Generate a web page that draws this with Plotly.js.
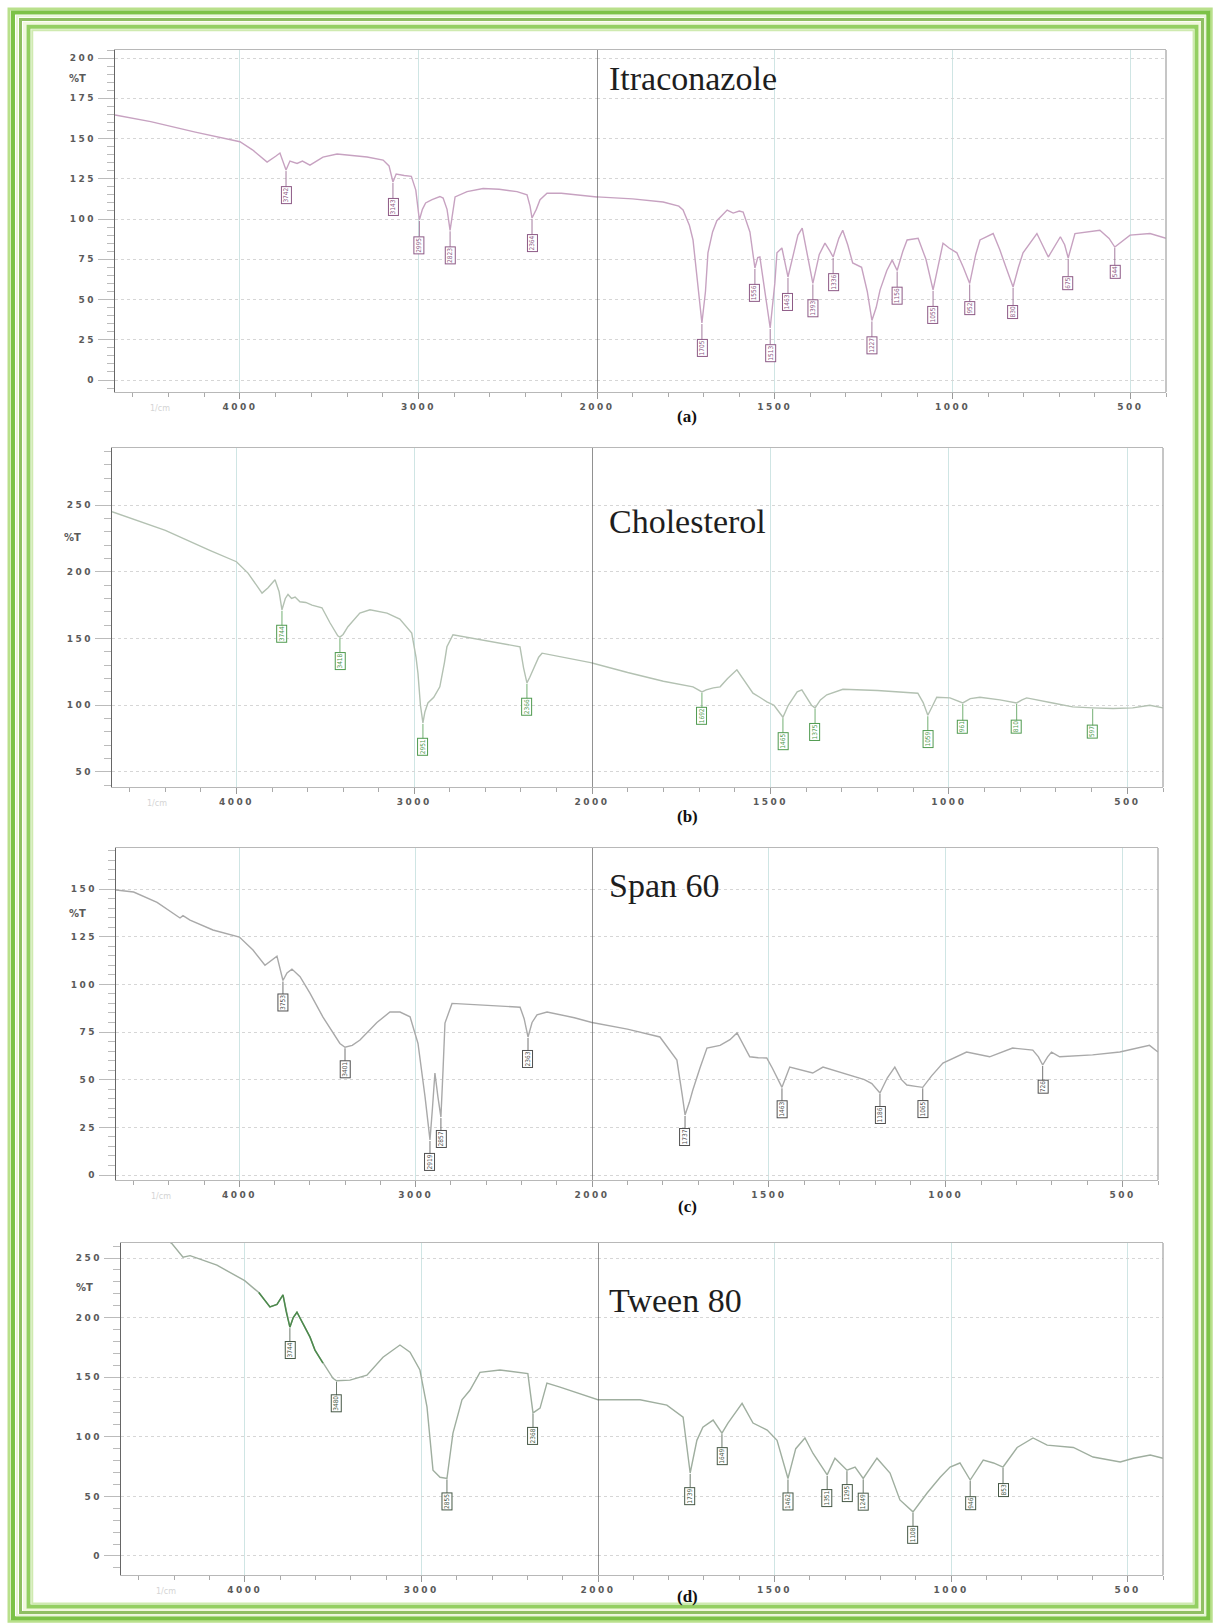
<!DOCTYPE html>
<html><head><meta charset="utf-8">
<script src="https://cdn.plot.ly/plotly-3.0.1.min.js"></script>
<style>
html,body{margin:0;padding:0;background:#fff;}
#chart{width:1213px;height:1624px;}
g[class$="tick"] > text{letter-spacing:2.5px;}
</style></head><body><div id="chart"></div>
<script>
// ---------- DATA (wavenumber cm-1, %T) ----------
const xTicksHigh = [4000, 3000];
const xTicksLow = [2000, 1500, 1000, 500];

// (a) Itraconazole
const wnA = [4700,4500,4250,4000,3930,3848,3800,3776,3742,3720,3680,3650,3608,3570,3535,3456,3370,3288,3198,3165,3143,3125,3080,3040,3015,2995,2978,2960,2924,2880,2862,2840,2823,2808,2795,2728,2638,2548,2448,2392,2375,2364,2340,2319,2280,2200,2100,2000,1900,1814,1770,1758,1740,1730,1715,1705,1695,1688,1675,1663,1634,1617,1600,1589,1570,1561,1556,1548,1542,1528,1513,1500,1494,1480,1470,1463,1450,1435,1423,1410,1393,1375,1359,1345,1336,1320,1309,1295,1281,1256,1240,1227,1215,1204,1185,1170,1156,1140,1128,1097,1075,1055,1040,1027,1010,988,970,952,935,923,886,867,850,830,815,802,763,731,697,685,675,665,656,586,560,544,525,501,445,400];
const tA = [164.6,160.5,154,148,143,135.4,139,141,130.4,136,134.5,136,133.5,136,138.5,140.4,139.5,138.5,136.6,133,123,128,127,126.5,118,99.4,106,110,112,114,113,106,93,105,113.7,117,119,118.5,117,115,108,100.6,106,112,116,116,115,113.7,112.5,110.6,108,105.6,96,87,55,35.4,55,79,92,99,105.6,103.7,105,104.3,92,76.4,69.6,76,76.4,55,32.3,60,79,82,72,64,76,90,94.4,80,60,78,85,80,76.4,88,93,84,72.7,70,55,37,45,56,68,74.5,68,80,87,88,75,56,72,85,82,79,70,60,78,87,91,80.7,70,57.8,70,79,91,76.4,89,84,75.8,84,91,93,88,82.6,86,90,91,88];
const pkWnA = [3742,3143,2995,2823,2364,1705,1556,1513,1463,1393,1336,1227,1156,1055,952,830,675,544];
const pkTA = [130.4,123,99.4,93,100.6,35.4,69.6,32.3,64,60,76.4,37,68,56,60,57.8,75.8,82.6];
const yTicksA = [0,25,50,75,100,125,150,175,200];

// (b) Cholesterol
const wnB = [4700,4400,4150,4000,3935,3856,3822,3783,3760,3744,3725,3710,3690,3670,3643,3610,3575,3545,3519,3474,3430,3418,3400,3373,3306,3249,3200,3153,3081,3014,2990,2979,2965,2951,2940,2923,2890,2856,2830,2816,2782,2600,2405,2385,2366,2350,2332,2300,2281,2200,2100,2000,1900,1800,1717,1700,1692,1680,1660,1641,1620,1594,1575,1549,1530,1510,1490,1478,1465,1450,1425,1412,1400,1385,1375,1360,1342,1297,1200,1137,1087,1072,1059,1045,1034,997,975,961,940,913,857,830,810,795,782,709,653,597,540,485,437,400];
const tB = [245,231,216,207.5,199,184,188,194,185,171.5,180,183,180,181,177.5,177,175,174,173,161.8,152,151,153,158.8,169,171.5,170.5,169,164.5,154,136,124,100,86.8,95,101.7,106,113.8,132,143.8,152.8,148.5,143.8,128,116.8,121,126.5,136,139,136.8,134.3,131.7,124.5,118,113.8,111,110,111.5,113,113.8,120,126.5,119,109,106,102.5,100,96,91,100,110,111.5,106,100,98,104,107.8,112,111,110,109,102,92.5,100,106,105.5,103,101.7,105,106,104,102.5,101.7,104,105.5,101.7,98.8,98,97.5,98,100,98];
const pkWnB = [3744,3418,2951,2366,1692,1465,1375,1059,961,810,597];
const pkTB = [171.5,151,86.8,116.8,110,91,98,92.5,101.7,101.7,98];
const yTicksB = [50,100,150,200,250];

// (c) Span 60
const wnC = [4700,4600,4467,4360,4337,4320,4280,4150,4000,3923,3855,3787,3770,3753,3730,3702,3656,3600,3526,3469,3430,3401,3360,3316,3220,3146,3089,3032,2987,2947,2930,2919,2905,2891,2874,2857,2845,2834,2794,2700,2618,2408,2385,2363,2340,2312,2255,2100,2000,1900,1808,1760,1745,1737,1725,1715,1695,1675,1638,1610,1590,1570,1554,1530,1506,1490,1463,1441,1410,1376,1347,1300,1271,1230,1209,1186,1165,1144,1125,1110,1085,1065,1040,1008,941,876,811,754,738,726,712,701,678,585,508,424,400];
const tC = [149.5,148.4,143,136,134.8,136,133.7,128.5,124.8,118,110,114.8,108,102,106,108,104,95.4,82.8,74.5,69,67,68,70.8,80,85.5,85.5,83,69,41,25,18.4,35,53.5,41,30.4,55,79.7,90,89.5,89,88,82,72.4,80,84,85.5,82.5,80,76.5,72.4,60.3,42,31.5,38,44.6,56,66.6,68,71,74.5,68,62,61.5,61.4,56,46,56.6,55,53.5,56.6,54,52.4,50,48,43,51,56.6,50,47.2,46.5,46,52,58.7,64.5,62,66.6,65.5,62,57.7,62,64.5,62,63,64.5,68,64.5];
const pkWnC = [3753,3401,2919,2857,2363,1737,1463,1186,1065,726];
const pkTC = [102,67,18.4,30.4,72.4,31.5,46,43,46,57.7];
const yTicksC = [0,25,50,75,100,125,150];

// (d) Tween 80
const wnD = [4700,4550,4411,4349,4309,4157,4000,3920,3857,3817,3783,3765,3744,3725,3704,3670,3630,3602,3557,3500,3480,3404,3308,3217,3121,3064,3008,2968,2934,2894,2855,2821,2770,2725,2668,2555,2397,2368,2328,2289,2215,2100,2000,1881,1805,1759,1739,1720,1703,1674,1649,1632,1592,1561,1521,1493,1462,1440,1414,1391,1351,1329,1295,1272,1249,1210,1173,1145,1108,1068,1031,1003,975,946,909,880,853,813,768,728,654,598,521,484,436,400];
const tD = [290,276,262,250.6,252,244,231,221,209,211,219,205,192,200,204.5,195,183.6,172.7,161.8,149,147,147.5,151.7,166.8,177,171,156,125,72,66,65,103,131,139,154,156,153,120,124,145,141.7,136,131,131,126.6,116.5,69.6,97,108,114,103,111.5,128,111.5,105.6,97,65,90,99,86,68,82,72,74.6,65,82,69.6,47,37,52.8,66,74.6,78,63.7,80.5,78,74.6,91,99,93,91,83,78.8,82,84.7,82];
const pkWnD = [3744,3480,2855,2368,1739,1649,1462,1351,1295,1249,1108,946,853];
const pkTD = [192,147,65,120,69.6,103,65,68,72,65,37,63.7,74.6];
const yTicksD = [0,50,100,150,200,250];

const titles = ['Itraconazole','Cholesterol','Span 60','Tween 80'];
const tags = ['(a)','(b)','(c)','(d)'];

// ---------- LAYOUT ----------
const W = 1213, H = 1624;
const px = x => x / W, py = y => 1 - y / H;

const panels = [
  {wn:wnA, t:tA, pw:pkWnA, pt:pkTA, yt:yTicksA, ymin:5,  L:115, B:597, R:1166, top:50,   bot:392,  yr:[-7.45,205],   line:'#c7a2c1', lab:'#8d5a86', titleY:78.5,  tagY:416,  pctX:77, pctY:78,   ay:25},
  {wn:wnB, t:tB, pw:pkWnB, pt:pkTB, yt:yTicksB, ymin:10, L:112, B:592, R:1163, top:448,  bot:787,  yr:[38.75,292.7], line:'#b3c1b2', lab:'#4f9a4f', titleY:521.5, tagY:816,  pctX:72, pctY:538,  ay:24},
  {wn:wnC, t:tC, pw:pkWnC, pt:pkTC, yt:yTicksC, ymin:5,  L:116, B:592, R:1158, top:848,  bot:1180, yr:[-2.6,171.5],  line:'#a9a9a9', lab:'#505050', titleY:885.5, tagY:1206, pctX:77, pctY:913,  ay:22},
  {wn:wnD, t:tD, pw:pkWnD, pt:pkTD, yt:yTicksD, ymin:10, L:121, B:598, R:1163, top:1243, bot:1575, yr:[-16,262.6],   line:'#9fae9f', lab:'#465846', titleY:1300.5,tagY:1596, pctX:84, pctY:1287, ay:23,
   hi:{from:3960, to:3520, color:'#4c8a4c'}}
];

const tickFont = {family:'DejaVu Sans, sans-serif', size:9, color:'#5a5a5a', weight:'bold'};
const data = [];
const layout = {
  width: W, height: H,
  margin: {l:0, r:0, t:0, b:0},
  paper_bgcolor: '#ffffff', plot_bgcolor: '#ffffff',
  showlegend: false,
  annotations: [], shapes: []
};
const key = id => id.replace(/^x/, 'xaxis').replace(/^y/, 'yaxis');

panels.forEach((p, i) => {
  const xl = i === 0 ? 'x' : 'x' + (2*i + 1);
  const xr = 'x' + (2*i + 2);
  const yid = i === 0 ? 'y' : 'y' + (i + 1);
  const ydom = [py(p.bot), py(p.top)];
  const xCommon = {
    anchor: yid, showline: true, linecolor: '#b8b8b8', linewidth: 1, mirror: true,
    showgrid: true, gridcolor: '#cfe5e4', gridwidth: 1, zeroline: false,
    ticks: 'outside', ticklen: 6, tickcolor: '#999', tickfont: tickFont,
    tickmode: 'array', fixedrange: true
  };
  layout[key(xl)] = Object.assign({}, xCommon, {
    domain: [px(p.L), px(p.B)], range: [4700, 2000], tickvals: xTicksHigh,
    minor: {dtick: 200, tick0: 0, ticks: 'outside', ticklen: 4, tickcolor: '#aaa', showgrid: false}
  });
  layout[key(xr)] = Object.assign({}, xCommon, {
    domain: [px(p.B), px(p.R)], range: [2000, 400], tickvals: xTicksLow,
    minor: {dtick: 100, tick0: 0, ticks: 'outside', ticklen: 4, tickcolor: '#aaa', showgrid: false}
  });
  layout[key(yid)] = {
    anchor: xl, domain: ydom, range: p.yr,
    showline: true, linecolor: '#666', linewidth: 1.2,
    showgrid: true, gridcolor: '#d6d6d6', griddash: 'dot', gridwidth: 1, zeroline: false,
    tickmode: 'array', tickvals: p.yt,
    ticks: 'outside', ticklen: 16, tickcolor: '#bbb', tickfont: tickFont, ticklabelstandoff: 0,
    minor: {dtick: p.ymin, tick0: 0, ticks: 'outside', ticklen: 7, tickcolor: '#bbb', showgrid: false},
    fixedrange: true
  };

  // spectrum drawn on both halves of the broken wavenumber axis
  [xl, xr].forEach(xa => data.push({
    type: 'scatter', mode: 'lines', x: p.wn, y: p.t, xaxis: xa, yaxis: yid,
    line: {color: p.line, width: 1.4}, hoverinfo: 'skip'
  }));
  if (p.hi) {
    const idx = p.wn.map((w, k) => k).filter(k => p.wn[k] <= p.hi.from && p.wn[k] >= p.hi.to);
    data.push({
      type: 'scatter', mode: 'lines', x: idx.map(k => p.wn[k]), y: idx.map(k => p.t[k]),
      xaxis: xl, yaxis: yid, line: {color: p.hi.color, width: 1.5}, hoverinfo: 'skip'
    });
  }

  // dark line at the 2000 cm-1 scale change and right frame edge
  layout.shapes.push({type:'line', xref: xr, x0: 2000, x1: 2000, yref: yid + ' domain', y0: 0, y1: 1,
    line: {color: '#555', width: 1.3}});
  layout.shapes.push({type:'line', xref: xr + ' domain', x0: 1, x1: 1, yref: yid + ' domain', y0: 0, y1: 1,
    line: {color: '#a8a8a8', width: 1.3}});

  // peak labels
  p.pw.forEach((w, k) => layout.annotations.push({
    x: w, y: p.pt[k], xref: w >= 2000 ? xl : xr, yref: yid,
    text: String(w), textangle: -90,
    showarrow: true, arrowhead: 0, arrowwidth: 0.8, arrowcolor: p.lab, ax: 0, ay: p.ay, standoff: 1,
    font: {family: 'DejaVu Sans Condensed, DejaVu Sans, sans-serif', size: 6.5, color: p.lab},
    bordercolor: p.lab, borderwidth: 1, borderpad: 0.5, bgcolor: 'rgba(255,255,255,0.85)'
  }));

  // compound title, panel tag, %T and unit text
  layout.annotations.push({xref:'paper', yref:'paper', x: px(607), y: py(p.titleY), xanchor:'left', yanchor:'middle',
    text: titles[i], showarrow:false, font:{family:'Liberation Serif, Times New Roman, serif', size:34, color:'#1e1e1e'}});
  layout.annotations.push({xref:'paper', yref:'paper', x: px(687), y: py(p.tagY), xanchor:'center', yanchor:'middle',
    text: '<b>' + tags[i] + '</b>', showarrow:false, font:{family:'Liberation Serif, Times New Roman, serif', size:17, color:'#111'}});
  layout.annotations.push({xref:'paper', yref:'paper', x: px(p.pctX), y: py(p.pctY), xanchor:'center', yanchor:'middle',
    text: '%T', showarrow:false, font:{family:'DejaVu Sans, sans-serif', size:10, color:'#5a5a5a', weight:'bold'}});
  layout.annotations.push({xref:'paper', yref:'paper', x: px(p.L + 45), y: py(p.bot + 16), xanchor:'center', yanchor:'middle',
    text: '1/cm', showarrow:false, font:{family:'DejaVu Sans, sans-serif', size:8, color:'#d4d4d4'}});
});

// decorative green frame
const frameBands = [
  {f:0.04, w:3, c:'#b9e08c'},
  {f:0.20, w:4, c:'#7cc247'},
  {f:0.36, w:2, c:'#e9f5d6'},
  {f:0.50, w:3, c:'#8fbf62'},
  {f:0.66, w:3, c:'#f1f8dc'},
  {f:0.82, w:4, c:'#94cf62'},
  {f:0.97, w:2, c:'#cfeab0'}
];
frameBands.forEach(b => layout.shapes.push({
  type:'rect', xref:'paper', yref:'paper',
  x0: px(8 + b.f*25), x1: px(1212 - b.f*19),
  y0: py(1622 - b.f*19), y1: py(8 + b.f*23),
  line: {color: b.c, width: b.w}, fillcolor: 'rgba(0,0,0,0)', layer: 'above'
}));

Plotly.newPlot('chart', data, layout, {displayModeBar: false, staticPlot: true});
</script></body></html>
